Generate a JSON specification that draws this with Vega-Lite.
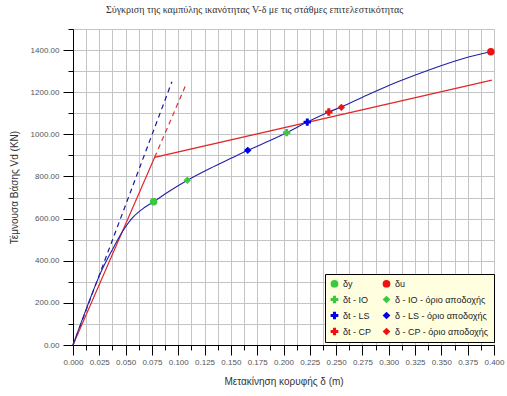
{
  "$schema": "https://vega.github.io/schema/vega-lite/v6.json",
  "width": 421,
  "height": 316,
  "autosize": "none",
  "padding": {"left": 73, "top": 29, "right": 13, "bottom": 51},
  "background": "white",
  "title": {
    "text": "Σύγκριση της καμπύλης ικανότητας V-δ με τις στάθμες επιτελεστικότητας",
    "font": "Liberation Serif",
    "fontSize": 10,
    "fontWeight": "normal",
    "color": "#333333",
    "anchor": "middle",
    "dx": -29,
    "offset": 10
  },
  "config": {
    "view": {"stroke": "#b0b0b0"},
    "axis": {
      "labelFont": "Liberation Sans",
      "labelFontSize": 8,
      "labelColor": "#555555",
      "titleFont": "Liberation Sans",
      "titleFontSize": 10,
      "titleFontWeight": "normal",
      "titleColor": "#333333",
      "gridColor": "#c4c4c4",
      "gridOpacity": 1,
      "gridWidth": 1,
      "domainColor": "#000000",
      "tickColor": "#000000"
    }
  },
  "datasets": {
    "lines": [
      {"series": "cap", "i": 0, "d": 0, "V": 0},
      {"series": "cap", "i": 1, "d": 0.013, "V": 176},
      {"series": "cap", "i": 2, "d": 0.026, "V": 340},
      {"series": "cap", "i": 3, "d": 0.038, "V": 458},
      {"series": "cap", "i": 4, "d": 0.045, "V": 522},
      {"series": "cap", "i": 5, "d": 0.049, "V": 554},
      {"series": "cap", "i": 6, "d": 0.056, "V": 601},
      {"series": "cap", "i": 7, "d": 0.0656, "V": 644},
      {"series": "cap", "i": 8, "d": 0.0766, "V": 680},
      {"series": "cap", "i": 9, "d": 0.09, "V": 725},
      {"series": "cap", "i": 10, "d": 0.1083, "V": 781},
      {"series": "cap", "i": 11, "d": 0.13, "V": 838},
      {"series": "cap", "i": 12, "d": 0.15, "V": 886},
      {"series": "cap", "i": 13, "d": 0.166, "V": 924},
      {"series": "cap", "i": 14, "d": 0.185, "V": 966},
      {"series": "cap", "i": 15, "d": 0.203, "V": 1008},
      {"series": "cap", "i": 16, "d": 0.2226, "V": 1058},
      {"series": "cap", "i": 17, "d": 0.243, "V": 1106},
      {"series": "cap", "i": 18, "d": 0.255, "V": 1130},
      {"series": "cap", "i": 19, "d": 0.276, "V": 1178},
      {"series": "cap", "i": 20, "d": 0.308, "V": 1248},
      {"series": "cap", "i": 21, "d": 0.3395, "V": 1308},
      {"series": "cap", "i": 22, "d": 0.371, "V": 1360},
      {"series": "cap", "i": 23, "d": 0.3965, "V": 1392},
      {"series": "bil", "i": 0, "d": 0, "V": 0},
      {"series": "bil", "i": 1, "d": 0.0776, "V": 891},
      {"series": "bil", "i": 2, "d": 0.398, "V": 1257},
      {"series": "reddash", "i": 0, "d": 0.0776, "V": 891},
      {"series": "reddash", "i": 1, "d": 0.107, "V": 1232},
      {"series": "bluedash", "i": 0, "d": 0, "V": 0},
      {"series": "bluedash", "i": 1, "d": 0.094, "V": 1250}
    ],
    "pts": [
      {"label": "δy", "d": 0.0766, "V": 680},
      {"label": "δu", "d": 0.397, "V": 1392},
      {"label": "δt - IO", "d": 0.203, "V": 1008},
      {"label": "δ - IO - όριο αποδοχής", "d": 0.1086, "V": 782},
      {"label": "δt - LS", "d": 0.2226, "V": 1058},
      {"label": "δ - LS - όριο αποδοχής", "d": 0.166, "V": 924},
      {"label": "δt - CP", "d": 0.243, "V": 1106},
      {"label": "δ - CP - όριο αποδοχής", "d": 0.255, "V": 1128}
    ]
  },
  "encoding": {
    "x": {
      "field": "d",
      "type": "quantitative",
      "scale": {"domain": [0, 0.4], "nice": false, "zero": false},
      "axis": {
        "title": "Μετακίνηση κορυφής δ (m)",
        "values": [0, 0.0125, 0.025, 0.0375, 0.05, 0.0625, 0.075, 0.0875, 0.1, 0.1125, 0.125, 0.1375, 0.15, 0.1625, 0.175, 0.1875, 0.2, 0.2125, 0.225, 0.2375, 0.25, 0.2625, 0.275, 0.2875, 0.3, 0.3125, 0.325, 0.3375, 0.35, 0.3625, 0.375, 0.3875, 0.4],
        "labelExpr": "round(datum.value*80) % 2 === 0 ? format(datum.value, '.3f') : ''",
        "tickSize": {"condition": {"test": "round(datum.value*80) % 2 === 0", "value": 10}, "value": 5},
        "labelPadding": 3,
        "titlePadding": 10,
        "labelFlush": false,
        "labelOverlap": false
      }
    },
    "y": {
      "field": "V",
      "type": "quantitative",
      "scale": {"domain": [0, 1500], "nice": false},
      "axis": {
        "title": "Τέμνουσα Βάσης Vd (KN)",
        "values": [0, 100, 200, 300, 400, 500, 600, 700, 800, 900, 1000, 1100, 1200, 1300, 1400, 1500],
        "labelExpr": "datum.value % 200 === 0 ? format(datum.value, '.2f') : ''",
        "tickSize": {"condition": {"test": "datum.value % 200 === 0", "value": 10}, "value": 5},
        "labelPadding": 4,
        "titlePadding": 11,
        "labelFlush": false,
        "labelOverlap": false
      }
    }
  },
  "layer": [
    {
      "data": {"name": "lines"},
      "transform": [{"filter": "datum.series === 'bluedash'"}],
      "mark": {"type": "line", "color": "#1a1aa0", "strokeWidth": 1.2, "strokeDash": [5, 4]},
      "encoding": {"order": {"field": "i"}}
    },
    {
      "data": {"name": "lines"},
      "transform": [{"filter": "datum.series === 'reddash'"}],
      "mark": {"type": "line", "color": "#e03030", "strokeWidth": 1.2, "strokeDash": [5, 4]},
      "encoding": {"order": {"field": "i"}}
    },
    {
      "data": {"name": "lines"},
      "transform": [{"filter": "datum.series === 'bil'"}],
      "mark": {"type": "line", "color": "#e02828", "strokeWidth": 1.2},
      "encoding": {"order": {"field": "i"}}
    },
    {
      "data": {"name": "lines"},
      "transform": [{"filter": "datum.series === 'cap'"}],
      "mark": {"type": "line", "color": "#2020a8", "strokeWidth": 1.1, "interpolate": "monotone"},
      "encoding": {"order": {"field": "i"}}
    },
    {
      "data": {"name": "pts"},
      "mark": {"type": "point", "filled": true, "opacity": 1, "size": 55},
      "encoding": {
        "color": {
          "field": "label",
          "type": "nominal",
          "scale": {
            "domain": ["δy", "δu", "δt - IO", "δ - IO - όριο αποδοχής", "δt - LS", "δ - LS - όριο αποδοχής", "δt - CP", "δ - CP - όριο αποδοχής"],
            "range": ["#3cc83c", "#ee1111", "#3cc83c", "#3cc83c", "#0000e0", "#0000e0", "#ee1111", "#ee1111"]
          },
          "legend": {
            "title": null,
            "orient": "none",
            "direction": "horizontal",
            "legendX": 252,
            "legendY": 245,
            "columns": 2,
            "gridAlign": "each",
            "fillColor": "#ffffe0",
            "strokeColor": "#000000",
            "padding": 5,
            "rowPadding": 6,
            "columnPadding": 10,
            "labelFont": "Liberation Sans",
            "labelFontSize": 9,
            "labelColor": "#222222",
            "labelOffset": 4,
            "symbolSize": 60,
            "symbolStrokeWidth": 0,
            "labelLimit": 200
          }
        },
        "shape": {
          "field": "label",
          "type": "nominal",
          "scale": {
            "domain": ["δy", "δu", "δt - IO", "δ - IO - όριο αποδοχής", "δt - LS", "δ - LS - όριο αποδοχής", "δt - CP", "δ - CP - όριο αποδοχής"],
            "range": ["circle", "circle", "cross", "diamond", "cross", "diamond", "cross", "diamond"]
          }
        }
      }
    }
  ]
}
